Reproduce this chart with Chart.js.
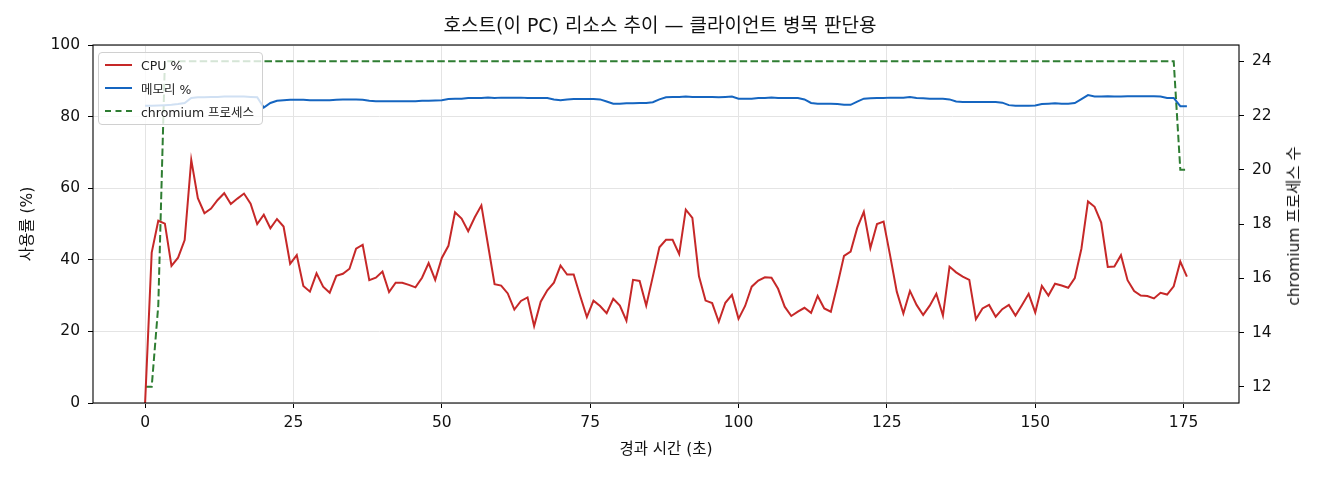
<!DOCTYPE html>
<html><head><meta charset="utf-8">
<title>호스트 리소스 추이</title>
<script src="https://cdn.jsdelivr.net/npm/chart.js"></script>
<style>
  body { margin: 0; background: #ffffff; }
  #wrap { position: relative; width: 1320px; height: 480px; }
  #legend {
    position: absolute; left: 98px; top: 52px; width: 165px; height: 73px;
    box-sizing: border-box; border: 1px solid #d0d0d0; border-radius: 4px;
    background: rgba(255,255,255,0.8); font-family: 'DejaVu Sans', 'Noto Sans CJK KR', sans-serif;
    font-size: 12.5px; color: #222;
  }
  .item { position: absolute; left: 6px; height: 20px; display: flex; align-items: center; white-space: nowrap; }
  .swatch { width: 27px; height: 0; margin-right: 9px; }
  #rightTitle {
    position: absolute; left: 1292px; top: 226px; width: 0; height: 0;
    font-family: 'DejaVu Sans', 'Noto Sans CJK KR', sans-serif; font-size: 15.5px; color: #111;
  }
  #rightTitle span {
    position: absolute; left: 0; top: 0; white-space: nowrap;
    transform: translate(-50%, -50%) rotate(-90deg);
  }
</style>
</head>
<body>
<div id="wrap">
  <canvas id="chart"></canvas>
  <div id="legend"></div>
  <div id="rightTitle"><span></span></div>
</div>
<script>
const titleText = '호스트(이 PC) 리소스 추이 — 클라이언트 병목 판단용';
const xLabel = '경과 시간 (초)';
const yLabel = '사용률 (%)';
const y1Label = 'chromium 프로세스 수';
const seriesNames = ['CPU %', '메모리 %', 'chromium 프로세스'];
const xTicks = [0, 25, 50, 75, 100, 125, 150, 175];
const rightTicks = [12, 14, 16, 18, 20, 22, 24];
const endTime = 175.56;

const cpu = [
  0, 42, 50.9, 50.1, 38.3, 40.6, 45.5, 67.9, 57.2, 53, 54.3, 56.7, 58.6, 55.6, 57.1, 58.5, 55.7, 50, 52.6, 48.8,
  51.4, 49.3, 38.9, 41.3, 32.7, 31.1, 36.2, 32.5, 30.8, 35.5, 36.1, 37.5, 43.1, 44.2, 34.3, 35, 36.7, 31, 33.6, 33.6,
  33, 32.3, 35, 39.1, 34.4, 40.5, 43.9, 53.3, 51.5, 48, 51.9, 55.2, 44.2, 33.2, 32.8, 30.6, 26.1, 28.5, 29.5, 21.5,
  28.3, 31.5, 33.6, 38.4, 35.9, 35.9, 29.8, 24, 28.6, 27.1, 25.1, 29.1, 27.2, 23, 34.4, 34.1, 27.2, 35.3, 43.5, 45.6,
  45.6, 41.6, 54, 51.7, 35.4, 28.6, 27.9, 22.7, 28, 30.2, 23.5, 27.1, 32.5, 34.2, 35.1, 35, 31.9, 26.9, 24.3, 25.5,
  26.6, 25.2, 29.9, 26.4, 25.5, 33, 41.1, 42.3, 48.9, 53.4, 43.3, 50, 50.7, 41.1, 31.1, 25, 31.3, 27.4, 24.6, 27.2,
  30.5, 24.4, 38.1, 36.5, 35.3, 34.4, 23.4, 26.4, 27.4, 24.1, 26.2, 27.4, 24.4, 27.4, 30.5, 25.3, 32.7, 30, 33.3, 32.8,
  32.2, 34.9, 43.1, 56.3, 54.8, 50.4, 38, 38.1, 41.3, 34.3, 31.3, 30, 29.9, 29.2, 30.8, 30.3, 32.6, 39.5, 35.3
];

const memory = [
  83.0, 83.0, 83.1, 83.2, 83.3, 83.5, 83.8, 85.2, 85.4, 85.4, 85.5, 85.5, 85.6, 85.6, 85.6, 85.6, 85.5, 85.4, 82.5, 83.8,
  84.4, 84.6, 84.7, 84.7, 84.7, 84.6, 84.6, 84.6, 84.6, 84.7, 84.8, 84.8, 84.8, 84.7, 84.4, 84.3, 84.3, 84.3, 84.3, 84.3,
  84.3, 84.3, 84.4, 84.4, 84.5, 84.6, 84.9, 85.0, 85.0, 85.2, 85.2, 85.2, 85.3, 85.2, 85.3, 85.3, 85.3, 85.3, 85.2, 85.2,
  85.2, 85.2, 84.8, 84.6, 84.8, 84.9, 84.9, 84.9, 84.9, 84.8, 84.2, 83.6, 83.6, 83.7, 83.7, 83.8, 83.8, 84.0, 84.8, 85.4,
  85.5, 85.5, 85.6, 85.5, 85.5, 85.5, 85.5, 85.4, 85.5, 85.6, 85.0, 85.0, 85.0, 85.2, 85.2, 85.3, 85.2, 85.2, 85.2, 85.2,
  84.8, 83.8, 83.6, 83.6, 83.6, 83.5, 83.3, 83.3, 84.2, 85.0, 85.1, 85.2, 85.2, 85.3, 85.3, 85.3, 85.5, 85.2, 85.1, 85.0,
  85.0, 85.0, 84.8, 84.2, 84.1, 84.1, 84.1, 84.1, 84.1, 84.1, 83.9, 83.2, 83.0, 83.0, 83.0, 83.1, 83.5, 83.6, 83.7, 83.6,
  83.6, 83.8, 84.9, 86.0, 85.6, 85.6, 85.7, 85.6, 85.6, 85.7, 85.7, 85.7, 85.7, 85.7, 85.6, 85.2, 85.2, 82.9, 82.9
];

const chromium = [
  12, 12, 15, 24, 24, 24, 24, 24, 24, 24, 24, 24, 24, 24, 24, 24, 24, 24, 24, 24,
  24, 24, 24, 24, 24, 24, 24, 24, 24, 24, 24, 24, 24, 24, 24, 24, 24, 24, 24, 24,
  24, 24, 24, 24, 24, 24, 24, 24, 24, 24, 24, 24, 24, 24, 24, 24, 24, 24, 24, 24,
  24, 24, 24, 24, 24, 24, 24, 24, 24, 24, 24, 24, 24, 24, 24, 24, 24, 24, 24, 24,
  24, 24, 24, 24, 24, 24, 24, 24, 24, 24, 24, 24, 24, 24, 24, 24, 24, 24, 24, 24,
  24, 24, 24, 24, 24, 24, 24, 24, 24, 24, 24, 24, 24, 24, 24, 24, 24, 24, 24, 24,
  24, 24, 24, 24, 24, 24, 24, 24, 24, 24, 24, 24, 24, 24, 24, 24, 24, 24, 24, 24,
  24, 24, 24, 24, 24, 24, 24, 24, 24, 24, 24, 24, 24, 24, 24, 24, 24, 20, 20
];

// samples are roughly evenly spaced over the run
const step = endTime / (cpu.length - 1);
const toPoints = arr => arr.map((v, i) => ({ x: i * step, y: v }));

const FONT = "'DejaVu Sans', 'Noto Sans CJK KR', sans-serif";
const colors = ['#c62828', '#1565c0', '#2e7d32'];

// black frame around the plot area (matplotlib style spines)
const framePlugin = {
  id: 'frame',
  afterDraw(chart) {
    const { ctx, chartArea: a } = chart;
    ctx.save();
    ctx.strokeStyle = '#000';
    ctx.lineWidth = 1.1;
    ctx.strokeRect(a.left, a.top, a.right - a.left, a.bottom - a.top);
    ctx.restore();
  }
};

const chart = new Chart(document.getElementById('chart'), {
  type: 'line',
  data: {
    datasets: [
      { label: seriesNames[0], data: toPoints(cpu), borderColor: colors[0], borderWidth: 2, yAxisID: 'y' },
      { label: seriesNames[1], data: toPoints(memory), borderColor: colors[1], borderWidth: 2, yAxisID: 'y' },
      { label: seriesNames[2], data: toPoints(chromium), borderColor: colors[2], borderWidth: 2, borderDash: [7.5, 3.3], yAxisID: 'y1' }
    ]
  },
  options: {
    responsive: true,
    maintainAspectRatio: false,
    animation: false,
    elements: { point: { radius: 0 }, line: { tension: 0 } },
    layout: { padding: 0 },
    plugins: {
      legend: { display: false },
      tooltip: { enabled: false },
      title: {
        display: true, text: titleText, color: '#111',
        font: { family: FONT, size: 19, weight: 'normal' },
        padding: { top: 16, bottom: 6.2 }
      }
    },
    scales: {
      x: {
        type: 'linear', min: -8.78, max: 184.34,
        afterBuildTicks: s => { s.ticks = xTicks.map(v => ({ value: v })); },
        afterFit: s => { s.height = 77; },
        grid: { color: '#e4e4e4', lineWidth: 1, tickColor: '#000', tickLength: 5 },
        border: { display: false },
        ticks: { color: '#111', font: { family: FONT, size: 15.5 }, padding: 6, maxRotation: 0 },
        title: { display: true, text: xLabel, color: '#111', font: { family: FONT, size: 15.5 }, padding: { top: 4, bottom: 21 } }
      },
      y: {
        position: 'left', min: 0, max: 100,
        ticks: { stepSize: 20, color: '#111', font: { family: FONT, size: 15.5 }, padding: 8 },
        afterFit: s => { s.width = 93; },
        grid: { color: '#e4e4e4', lineWidth: 1, tickColor: '#000', tickLength: 5 },
        border: { display: false },
        title: { display: true, text: yLabel, color: '#111', font: { family: FONT, size: 15.5 }, padding: { top: 19, bottom: 4 } }
      },
      y1: {
        position: 'right', min: 11.4, max: 24.6,
        afterBuildTicks: s => { s.ticks = rightTicks.map(v => ({ value: v })); },
        afterFit: s => { s.width = 81; },
        grid: { drawOnChartArea: false, tickColor: '#000', tickLength: 5 },
        border: { display: false },
        ticks: { color: '#111', font: { family: FONT, size: 15.5 }, padding: 8 }
      }
    }
  },
  plugins: [framePlugin]
});

// right axis title reads bottom-to-top like the left one
document.querySelector('#rightTitle span').textContent = y1Label;

// legend box inside the axes, upper left
const legend = document.getElementById('legend');
chart.data.datasets.forEach((ds, i) => {
  const item = document.createElement('div');
  item.className = 'item';
  item.style.top = (2 + i * 23) + 'px';
  const sw = document.createElement('span');
  sw.className = 'swatch';
  sw.style.borderTop = '2px ' + (ds.borderDash ? 'dashed ' : 'solid ') + ds.borderColor;
  const label = document.createElement('span');
  label.textContent = ds.label;
  item.appendChild(sw);
  item.appendChild(label);
  legend.appendChild(item);
});
</script>
</body></html>
